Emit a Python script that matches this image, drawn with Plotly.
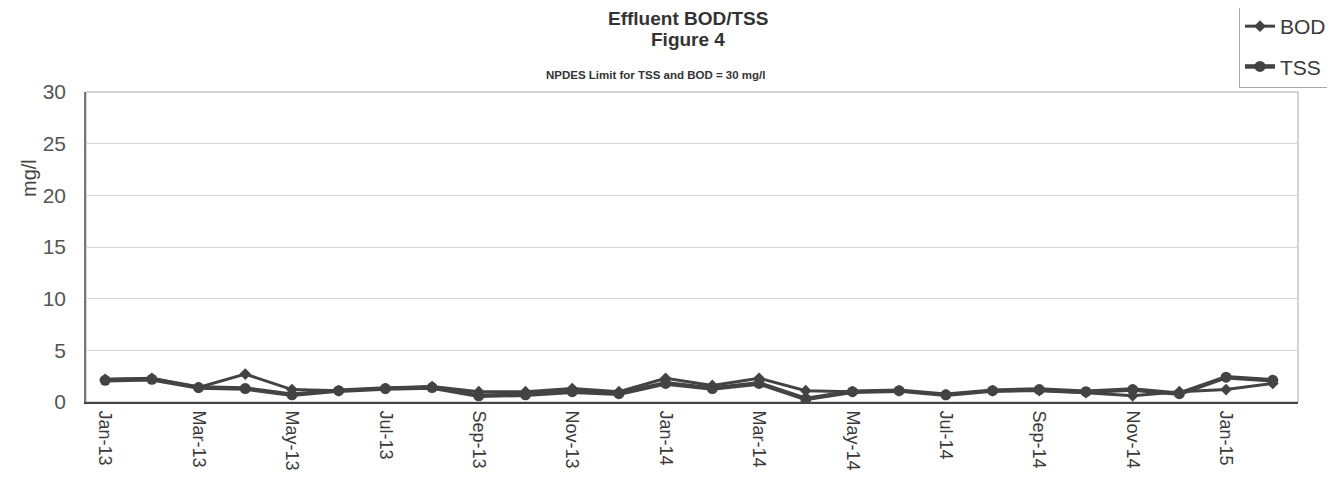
import plotly.graph_objects as go

months = ["Jan-13","Feb-13","Mar-13","Apr-13","May-13","Jun-13","Jul-13","Aug-13",
          "Sep-13","Oct-13","Nov-13","Dec-13","Jan-14","Feb-14","Mar-14","Apr-14",
          "May-14","Jun-14","Jul-14","Aug-14","Sep-14","Oct-14","Nov-14","Dec-14",
          "Jan-15","Feb-15"]
bod = [2.2, 2.3, 1.4, 2.7, 1.2, 1.1, 1.3, 1.5, 1.0, 1.0, 1.3, 1.0, 2.3, 1.6, 2.3, 1.1,
       1.0, 1.1, 0.7, 1.1, 1.1, 0.9, 0.6, 1.0, 1.2, 1.8]
tss = [2.1, 2.2, 1.4, 1.3, 0.7, 1.1, 1.3, 1.4, 0.6, 0.7, 1.0, 0.8, 1.8, 1.3, 1.8, 0.3,
       1.0, 1.1, 0.7, 1.1, 1.2, 1.0, 1.2, 0.8, 2.4, 2.1]
tick_labels = months[::2]

W, H = 1327, 488
L, R, T, B = 78, 37, 84, 94
PW, PH = W - L - R, H - T - B


def px(x):  # figure pixel x -> paper
    return (x - L) / PW


def py(y):  # figure pixel y (from top) -> paper
    return (H - B - y) / PH


dark = "#434343"
fig = go.Figure()
fig.add_trace(go.Scatter(x=months, y=bod, name="BOD", mode="lines+markers", legendgroup="a",
                         line=dict(color=dark, width=3),
                         marker=dict(symbol="diamond", size=9, color=dark)))
fig.add_trace(go.Scatter(x=months, y=tss, name="TSS", mode="lines+markers", legendgroup="b",
                         line=dict(color=dark, width=4.5),
                         marker=dict(symbol="circle", size=11, color=dark)))

fig.update_layout(
    width=W, height=H,
    paper_bgcolor="white", plot_bgcolor="white",
    font=dict(family="Liberation Sans, Arial, sans-serif", color="#444"),
    margin=dict(l=L, r=R, t=T, b=B, autoexpand=False),
    showlegend=True,
    legend=dict(x=px(1324), xanchor="right", y=py(-3), yanchor="top",
                bordercolor="#aaa", borderwidth=1,
                font=dict(size=21, color="#3a3a3a"), tracegroupgap=10),
    annotations=[
        dict(text="<b>Effluent BOD/TSS</b>", xref="paper", yref="paper",
             x=px(680), y=py(11), xanchor="center", yanchor="middle", showarrow=False,
             font=dict(size=19, color="#333")),
        dict(text="<b>Figure 4</b>", xref="paper", yref="paper",
             x=px(680), y=py(31), xanchor="center", yanchor="middle", showarrow=False,
             font=dict(size=19, color="#333")),
        dict(text="<b>NPDES Limit for TSS and BOD = 30 mg/l</b>", xref="paper", yref="paper",
             x=px(648), y=py(67), xanchor="center", yanchor="middle", showarrow=False,
             font=dict(size=11.5, color="#333")),
        dict(text="mg/l", xref="paper", yref="paper", x=px(21), y=py(170), textangle=-90,
             xanchor="center", yanchor="middle",
             showarrow=False, font=dict(size=20, color="#444")),
    ],
)
fig.update_xaxes(type="category", categoryorder="array", categoryarray=months,
                 range=[-0.41, 25.54],
                 tickmode="array", tickvals=tick_labels, ticktext=tick_labels,
                 tickangle=90, tickfont=dict(size=18, color="#3a3a3a"),
                 ticklabelstandoff=3,
                 showline=True, linecolor="#444", linewidth=2, mirror=False,
                 showgrid=False, ticks="")
fig.update_yaxes(range=[0, 30], dtick=5, tickfont=dict(size=21, color="#555"),
                 ticklabelstandoff=14,
                 showgrid=True, gridcolor="#d4d4d4", gridwidth=1,
                 showline=True, linecolor="#777", linewidth=1.5, zeroline=False, ticks="")
fig.add_shape(type="rect", xref="paper", yref="paper", x0=0, y0=0, x1=1, y1=1,
              line=dict(color="#aaa", width=1), layer="below")

fig.write_html("out.html")
